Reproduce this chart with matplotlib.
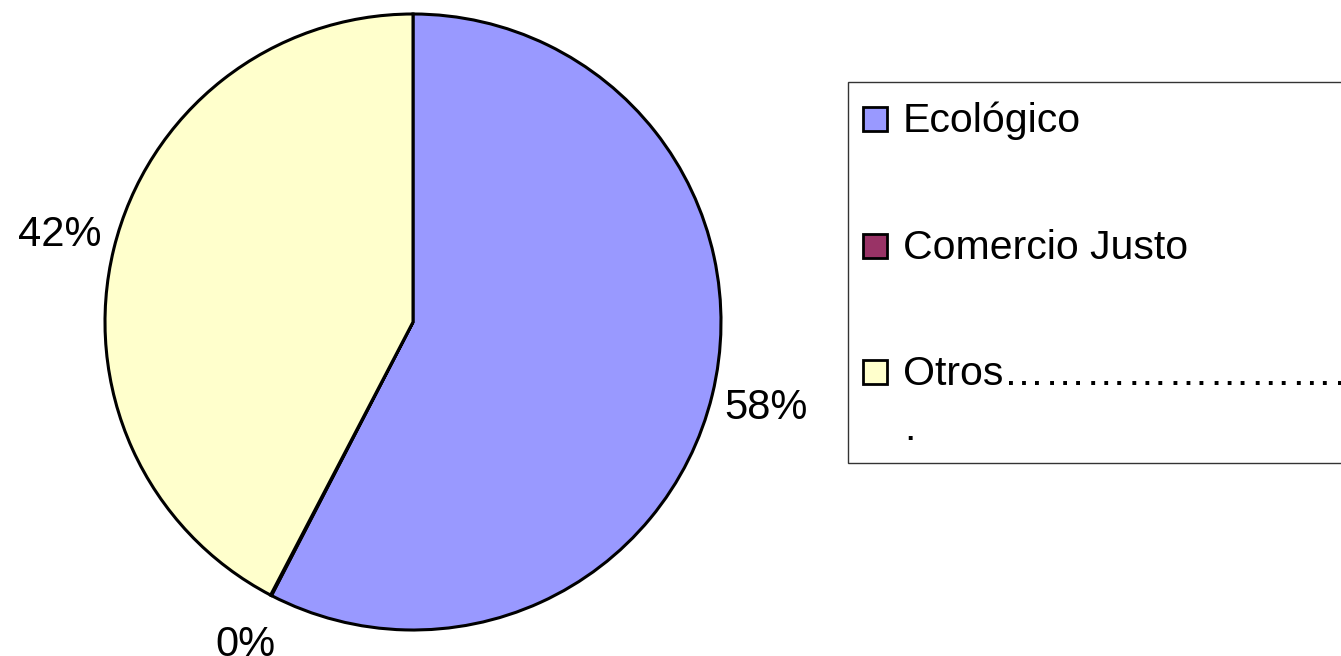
import matplotlib.pyplot as plt
from matplotlib.patches import Rectangle

plt.rcParams['font.family'] = ['Liberation Sans', 'DejaVu Sans']

categorias = ["Ecológico", "Comercio Justo", "Otros"]
valores = [57.6, 0.05, 42.35]
colores = ["#9999FF", "#993366", "#FFFFCC"]
etiqueta_otros = "Otros" + "\u2026" * 10

W, H = 1341, 656
fig = plt.figure(figsize=(W / 100, H / 100), dpi=100)

# pie: centro (413, 322) px, radio 308 px
cx, cy, r = 413, 322, 308
ax = fig.add_axes([(cx - r) / W, (H - cy - r) / H, 2 * r / W, 2 * r / H])
wedges, textos, pcts = ax.pie(
    valores, colors=colores, startangle=90, counterclock=False,
    autopct='%1.0f%%', pctdistance=1.18,
    wedgeprops=dict(edgecolor='black', linewidth=2.2),
    textprops=dict(fontsize=30, color='black'))
ax.set_xlim(-1, 1)
ax.set_ylim(-1, 1)
ax.set_aspect('equal')

# leyenda (recortada por el borde derecho como en la original)
def fx(x):
    return x / W

def fy(y):
    return 1 - y / H

fig.patches.append(Rectangle((fx(848), fy(463)), fx(700), (463 - 82) / H,
                             transform=fig.transFigure, facecolor='white',
                             edgecolor='#333333', linewidth=1))

bases = [132, 259, 385]
etiquetas = [categorias[0], categorias[1], etiqueta_otros]
for nombre, color, base in zip(etiquetas, colores, bases):
    fig.patches.append(Rectangle((fx(863), fy(base - 1)), 24 / W, 24 / H,
                                 transform=fig.transFigure, facecolor=color,
                                 edgecolor='black', linewidth=2))
    fig.text(fx(903), fy(base), nombre, fontsize=29.5, va='baseline', ha='left')
fig.text(fx(904), fy(440), ".", fontsize=29.5, va='baseline', ha='left')

fig.savefig("out.png", dpi=100)
